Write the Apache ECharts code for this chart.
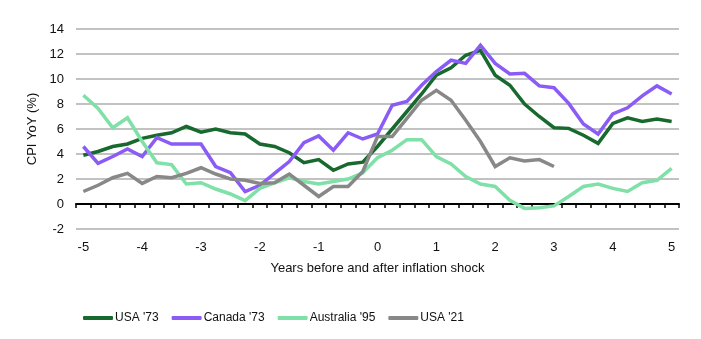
<!DOCTYPE html>
<html>
<head>
<meta charset="utf-8">
<script src="https://cdn.jsdelivr.net/npm/echarts@6/dist/echarts.min.js"></script>
<style>
  html, body { margin: 0; padding: 0; background: #fff; }
  #chart { width: 701px; height: 339px; }
</style>
</head>
<body>
<div id="chart"></div>
<script>
// Quarters relative to the inflation shock (years)
const quarters = [
  '-5', '-4.75', '-4.5', '-4.25', '-4', '-3.75', '-3.5', '-3.25', '-3', '-2.75', '-2.5',
  '-2.25', '-2', '-1.75', '-1.5', '-1.25', '-1', '-0.75', '-0.5', '-0.25', '0',
  '0.25', '0.5', '0.75', '1', '1.25', '1.5', '1.75', '2', '2.25', '2.5',
  '2.75', '3', '3.25', '3.5', '3.75', '4', '4.25', '4.5', '4.75', '5'
];

// CPI year-over-year, %
const usa73 = [
  3.9, 4.2, 4.6, 4.8, 5.25, 5.5, 5.7, 6.2, 5.75, 6.0, 5.7,
  5.6, 4.8, 4.6, 4.1, 3.3, 3.55, 2.7, 3.2, 3.35, 4.6,
  6.0, 7.4, 8.8, 10.3, 10.9, 11.9, 12.3, 10.3, 9.5, 8.0,
  7.0, 6.1, 6.05, 5.5, 4.85, 6.45, 6.9, 6.6, 6.8, 6.6
];
const canada73 = [
  4.6, 3.25, 3.8, 4.4, 3.8, 5.3, 4.8, 4.8, 4.8, 3.0, 2.5,
  1.0, 1.5, 2.45, 3.4, 4.9, 5.45, 4.3, 5.7, 5.2, 5.6,
  7.9, 8.2, 9.5, 10.6, 11.5, 11.25, 12.7, 11.25, 10.4, 10.45,
  9.45, 9.3, 8.05, 6.4, 5.6, 7.2, 7.7, 8.65, 9.45, 8.8
];
const australia95 = [
  8.7, 7.65, 6.1, 6.9, 5.0, 3.3, 3.15, 1.6, 1.7, 1.2, 0.8,
  0.27, 1.25, 1.7, 2.1, 1.8, 1.6, 1.8, 2.0, 2.5, 3.7,
  4.3, 5.15, 5.15, 3.8, 3.2, 2.2, 1.6, 1.4, 0.3, -0.35,
  -0.3, -0.15, 0.6, 1.4, 1.6, 1.25, 1.0, 1.7, 1.9, 2.85
];
const usa21 = [
  1.0, 1.5, 2.1, 2.45, 1.65, 2.2, 2.1, 2.45, 2.9, 2.4, 2.0,
  1.9, 1.65, 1.7, 2.4, 1.5, 0.6, 1.4, 1.4, 2.6, 5.4,
  5.4, 6.85, 8.3, 9.1, 8.3, 6.7, 5.0, 3.0, 3.7, 3.45,
  3.55, 3.0, null, null, null, null, null, null, null, null
];

const seriesNames = ["USA '73", "Canada '73", "Australia '95", "USA '21"];
const seriesColors = ['#17692e', '#8a5cf5', '#7fe0a8', '#888888'];
const seriesData = [usa73, canada73, australia95, usa21];

const yTicks = { min: -2, max: 14, step: 2 };

const font = "'Liberation Sans', Arial, Helvetica, sans-serif";

const chart = echarts.init(document.getElementById('chart'), null, { renderer: 'canvas' });

chart.setOption({
  animation: false,
  backgroundColor: '#ffffff',
  grid: { left: 76, right: 22, top: 29, bottom: 110, containLabel: false },
  legend: {
    left: 78,
    top: 307,
    icon: 'roundRect',
    itemWidth: 30,
    itemHeight: 4,
    itemGap: 13,
    textStyle: { fontFamily: font, fontSize: 12, color: '#111', padding: [0, 0, 0, -3] },
    data: seriesNames
  },
  xAxis: [
    {
      // zero line with quarter ticks
      type: 'category',
      data: quarters,
      boundaryGap: true,
      position: 'bottom',
      axisLine: { show: true, onZero: true, lineStyle: { color: '#000', width: 2 } },
      axisTick: { show: true, interval: 0, length: 4, lineStyle: { color: '#000', width: 1.5 } },
      axisLabel: { show: false },
      splitLine: { show: false }
    },
    {
      // year labels along the bottom of the plot
      type: 'category',
      data: quarters,
      boundaryGap: true,
      position: 'bottom',
      axisLine: { show: false, onZero: false },
      axisTick: { show: false },
      axisLabel: {
        show: true,
        interval: 3,
        margin: 12,
        fontFamily: font,
        fontSize: 13,
        color: '#111'
      },
      name: 'Years before and after inflation shock',
      nameLocation: 'middle',
      nameGap: 33,
      nameTextStyle: { fontFamily: font, fontSize: 13, color: '#111' },
      splitLine: { show: false }
    }
  ],
  yAxis: {
    type: 'value',
    min: yTicks.min,
    max: yTicks.max,
    interval: yTicks.step,
    axisLine: { show: false },
    axisTick: { show: false },
    axisLabel: { margin: 12, fontFamily: font, fontSize: 13, color: '#111' },
    splitLine: { show: true, lineStyle: { color: '#c2c2c2', width: 2 } },
    name: 'CPI YoY (%)',
    nameLocation: 'middle',
    nameGap: 31,
    nameRotate: 90,
    nameTextStyle: { fontFamily: font, fontSize: 13, color: '#111' }
  },
  series: seriesNames.map((name, i) => ({
    name: name,
    type: 'line',
    xAxisIndex: 0,
    data: seriesData[i],
    symbol: 'none',
    connectNulls: false,
    color: seriesColors[i],
    lineStyle: { color: seriesColors[i], width: 3.5, join: 'miter' },
    itemStyle: { color: seriesColors[i] }
  }))
});
</script>
</body>
</html>
